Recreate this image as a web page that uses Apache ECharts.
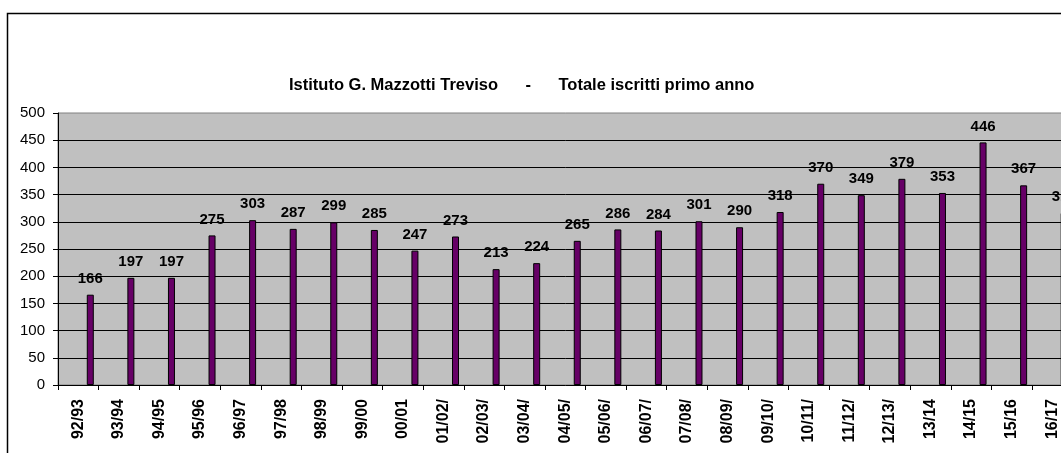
<!DOCTYPE html>
<html>
<head>
<meta charset="utf-8">
<title>Istituto G. Mazzotti Treviso - Totale iscritti primo anno</title>
<script src="https://cdn.jsdelivr.net/npm/echarts@6/dist/echarts.min.js"></script>
<style>
  html, body { margin: 0; padding: 0; background: #fff; overflow: hidden; }
  #chart { width: 1090px; height: 453px; }
</style>
</head>
<body>
<div id="chart"></div>
<script>
  // anni scolastici (etichette come nel grafico originale)
  var anni = ['92/93', '93/94', '94/95', '95/96', '96/97', '97/98', '98/99', '99/00', '00/01',
    '01/02/', '02/03/', '03/04/', '04/05/', '05/06/', '06/07/', '07/08/', '08/09/', '09/10/',
    '10/11/', '11/12/', '12/13/', '13/14', '14/15', '15/16', '16/17'];
  // iscritti al primo anno
  var iscritti = [166, 197, 197, 275, 303, 287, 299, 285, 247, 273, 213, 224, 265, 286, 284,
    301, 290, 318, 370, 349, 379, 353, 446, 367, 316];
  var yTicks = [0, 50, 100, 150, 200, 250, 300, 350, 400, 450, 500];

  var font = 'Arial, "Liberation Sans", sans-serif';
  var chart = echarts.init(document.getElementById('chart'));

  chart.setOption({
    animation: false,
    backgroundColor: '#fff',
    title: {
      text: 'Istituto G. Mazzotti Treviso      -      Totale iscritti primo anno',
      left: 284,
      top: 72,
      textStyle: { fontFamily: font, fontSize: 16.5, fontWeight: 'bold', color: '#000' }
    },
    graphic: [{
      type: 'rect',
      shape: { x: 7.5, y: 13.5, width: 1200, height: 600 },
      style: { fill: null, stroke: '#000', lineWidth: 1.5 },
      silent: true
    }],
    grid: {
      left: 58,
      right: 17.5,
      top: 113,
      height: 272,
      show: true,
      backgroundColor: '#c0c0c0',
      borderColor: '#808080',
      borderWidth: 1
    },
    xAxis: {
      type: 'category',
      data: anni,
      axisLine: { lineStyle: { color: '#000', width: 1 } },
      axisTick: { show: true, length: 5, lineStyle: { color: '#000' } },
      axisLabel: {
        rotate: 90,
        margin: 14,
        interval: 0,
        fontFamily: font,
        fontSize: 16,
        fontWeight: 'bold',
        color: '#000'
      }
    },
    yAxis: {
      type: 'value',
      min: yTicks[0],
      max: yTicks[yTicks.length - 1],
      interval: yTicks[1] - yTicks[0],
      axisLine: { show: true, lineStyle: { color: '#000', width: 1 } },
      axisTick: { show: true, length: 5, lineStyle: { color: '#000' } },
      axisLabel: { margin: 13, fontFamily: font, fontSize: 15, color: '#000' },
      splitLine: { show: true, showMinLine: false, showMaxLine: false, lineStyle: { color: '#000', width: 1 } }
    },
    series: [
      {
        // serie vuota: sposta la barra verso destra come nel foglio originale
        name: 'vuota',
        type: 'bar',
        barWidth: 7,
        barGap: '243%',
        data: anni.map(function () { return '-'; })
      },
      {
        name: 'Totale iscritti primo anno',
        type: 'bar',
        barWidth: 7,
        barGap: '243%',
        data: iscritti,
        itemStyle: { color: '#660066', borderColor: '#000', borderWidth: 1 },
        label: {
          show: true,
          position: 'top',
          distance: 8.5,
          fontFamily: font,
          fontSize: 15,
          fontWeight: 'bold',
          color: '#000'
        }
      }
    ]
  });
</script>
</body>
</html>
